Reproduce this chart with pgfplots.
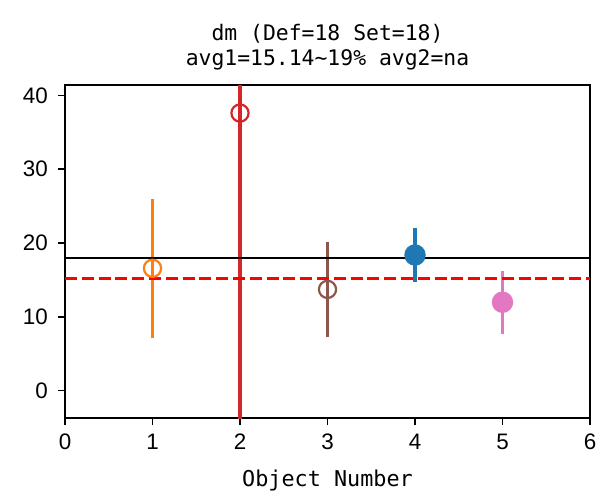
\documentclass[border=0pt]{standalone}
\usepackage{fontspec}
\setmainfont{Liberation Sans}
\newfontfamily\monof{DejaVu Sans Mono}
\usepackage{pgfplots}
\pgfplotsset{compat=1.18}
\definecolor{tabblue}{HTML}{1F77B4}
\definecolor{taborange}{HTML}{FF7F0E}
\definecolor{tabred}{HTML}{D62728}
\definecolor{tabbrown}{HTML}{8C564B}
\definecolor{tabpink}{HTML}{E377C2}
\begin{document}
\begin{tikzpicture}
\useasboundingbox (-32.5pt,-38pt) rectangle (269.5pt,209pt);
\begin{axis}[
  at={(0,0)}, anchor=south west,
  scale only axis, width=262.5pt, height=166.5pt,
  xmin=0, xmax=6, ymin=-3.73, ymax=41.4,
  xtick={0,1,2,3,4,5,6}, ytick={0,10,20,30,40},
  tick align=outside, xtick pos=left, ytick pos=left,
  major tick length=3.6pt,
  axis line style={line width=0.8pt},
  every tick/.style={line width=0.8pt, black},
  tick label style={font=\fontsize{11.2}{13}\selectfont},
  xticklabel style={yshift=-1pt},
  yticklabel style={xshift=-1.5pt},
  /pgf/number format/assume math mode=true,
  xlabel={Object Number},
  xlabel style={font=\monof\fontsize{10.9}{12}\selectfont, at={(axis description cs:0.5,0)}, anchor=base, yshift=-34pt},
  title={dm (Def=18 Set=18)\\avg1=15.14\textasciitilde19\% avg2=na},
  title style={font=\monof\fontsize{10.7}{12.5}\selectfont, align=center, yshift=-2pt},
  clip=true,
]
\addplot[taborange, line width=1.7pt, mark=o, mark size=4.3pt, mark options={fill=none, line width=1.1pt},
  error bars/.cd, y dir=both, y explicit, error mark=none, error bar style={line width=1.7pt}]
  coordinates {(1,16.56) +- (0,9.4)};
\addplot[tabred, line width=1.7pt, mark=o, mark size=4.3pt, mark options={fill=none, line width=1.1pt},
  error bars/.cd, y dir=both, y explicit, error mark=none, error bar style={line width=1.7pt}]
  coordinates {(2,37.6) +- (0,45)};
\addplot[tabbrown, line width=1.7pt, mark=o, mark size=4.3pt, mark options={fill=none, line width=1.1pt},
  error bars/.cd, y dir=both, y explicit, error mark=none, error bar style={line width=1.7pt}]
  coordinates {(3,13.7) +- (0,6.45)};
\addplot[tabblue, line width=1.7pt, mark=*, mark size=4.5pt, mark options={fill=tabblue, draw=tabblue},
  error bars/.cd, y dir=both, y explicit, error mark=none, error bar style={line width=1.7pt}]
  coordinates {(4,18.36) +- (0,3.63)};
\addplot[tabpink, line width=1.7pt, mark=*, mark size=4.5pt, mark options={fill=tabpink, draw=tabpink},
  error bars/.cd, y dir=both, y explicit, error mark=none, error bar style={line width=1.7pt}]
  coordinates {(5,11.96) +- (0,4.27)};
\addplot[black, line width=1pt, no marks] coordinates {(0,18) (6,18)};
\addplot[red, line width=1.7pt, no marks, dash pattern=on 6pt off 2.4pt] coordinates {(0,15.14) (6,15.14)};
\end{axis}
\end{tikzpicture}
\end{document}
